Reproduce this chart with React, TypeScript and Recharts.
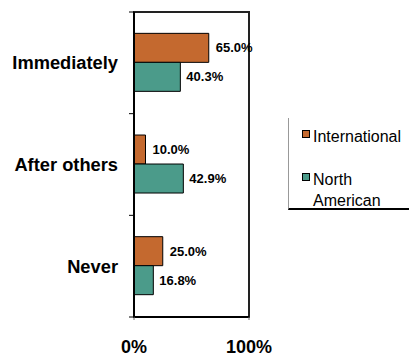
import { BarChart, Bar, XAxis, YAxis, LabelList, ReferenceArea } from "recharts";

const categories = ["Immediately", "After others", "Never"];
const seriesNames = ["International", "North American"];
const international = [65.0, 10.0, 25.0];
const northAmerican = [40.3, 42.9, 16.8];
const xTicks = [0, 100];

const ORANGE = "#C4692F";
const TEAL = "#4B9B8A";
const FONT = "'Liberation Sans', Arial, sans-serif";

const W = 409;
const H = 356;
const PLOT_LEFT = 134;
const PLOT_RIGHT = 249;
const PLOT_TOP = 12;
const PLOT_BOTTOM = 317;
const TOP_AXIS_H = 1;
const BAND = (PLOT_BOTTOM - PLOT_TOP) / categories.length;

const data = categories.map((c, i) => ({
  name: c,
  [seriesNames[0]]: international[i],
  [seriesNames[1]]: northAmerican[i],
}));

// category labels plus the small ticks between the bands
function CategoryTick(props: any) {
  const { y, payload, index } = props;
  const top = y - BAND / 2;
  return (
    <g>
      <line x1={PLOT_LEFT - 5} x2={PLOT_LEFT} y1={top} y2={top} stroke="#000" strokeWidth={1} />
      {index === categories.length - 1 && (
        <line x1={PLOT_LEFT - 5} x2={PLOT_LEFT} y1={y + BAND / 2} y2={y + BAND / 2} stroke="#000" strokeWidth={1} />
      )}
      <text
        x={PLOT_LEFT - 16}
        y={y}
        dy="0.36em"
        textAnchor="end"
        fontFamily={FONT}
        fontWeight="bold"
        fontSize={18.3}
        fill="#000"
      >
        {payload.value}
      </text>
    </g>
  );
}

function LegendBox() {
  const item = (color: string, lines: string[]) => (
    <div style={{ display: "flex", alignItems: "flex-start" }}>
      <span
        style={{
          width: 6,
          height: 6,
          background: color,
          border: "1px solid #000",
          marginTop: 4,
          marginRight: 3,
          flexShrink: 0,
        }}
      />
      <div style={{ lineHeight: "21px" }}>
        {lines.map((l) => (
          <div key={l}>{l}</div>
        ))}
      </div>
    </div>
  );
  return (
    <div
      style={{
        position: "absolute",
        left: 288,
        top: 118,
        width: 121,
        height: 92,
        boxSizing: "border-box",
        borderLeft: "1px solid #999",
        borderBottom: "2px solid #000",
        paddingLeft: 13,
        paddingTop: 8,
        fontFamily: FONT,
        fontSize: 16,
        color: "#000",
      }}
    >
      {item(ORANGE, [seriesNames[0]])}
      <div style={{ height: 22 }} />
      {item(TEAL, seriesNames[1].split(" "))}
    </div>
  );
}

export default function App() {
  return (
    <div style={{ position: "absolute", left: 0, top: 0, width: W, height: H, background: "#fff" }}>
      <BarChart
        width={W}
        height={H}
        data={data}
        layout="vertical"
        margin={{ top: PLOT_TOP - TOP_AXIS_H, right: W - PLOT_RIGHT, bottom: 0, left: 0 }}
        barCategoryGap="21%"
        barGap={0}
      >
        <ReferenceArea x1={0} x2={100} fill="none" stroke="#222" strokeWidth={2} ifOverflow="visible" />
        <XAxis
          type="number"
          domain={[0, 100]}
          ticks={xTicks}
          tickFormatter={(v) => `${v}%`}
          axisLine={{ stroke: "#000", strokeWidth: 2 }}
          tickLine={{ stroke: "#666" }}
          tickSize={3}
          tickMargin={20}
          height={H - PLOT_BOTTOM}
          tick={{ fill: "#000", fontSize: 18, fontWeight: "bold", fontFamily: FONT }}
        />
        <XAxis
          xAxisId="top"
          orientation="top"
          type="number"
          domain={[0, 100]}
          ticks={xTicks}
          tick={false}
          tickLine={false}
          axisLine={{ stroke: "#222", strokeWidth: 2 }}
          height={TOP_AXIS_H}
        />
        <YAxis
          type="category"
          dataKey="name"
          width={PLOT_LEFT}
          axisLine={{ stroke: "#000", strokeWidth: 2 }}
          tickLine={false}
          tick={<CategoryTick />}
        />
        <Bar dataKey={seriesNames[0]} fill={ORANGE} stroke="#000" strokeWidth={1} isAnimationActive={false}>
          <LabelList
            dataKey={seriesNames[0]}
            position="right"
            offset={7}
            formatter={(v: any) => `${Number(v).toFixed(1)}%`}
            style={{ fill: "#000", fontSize: 13, fontWeight: "bold", fontFamily: FONT }}
          />
        </Bar>
        <Bar dataKey={seriesNames[1]} fill={TEAL} stroke="#000" strokeWidth={1} isAnimationActive={false}>
          <LabelList
            dataKey={seriesNames[1]}
            position="right"
            offset={6}
            formatter={(v: any) => `${Number(v).toFixed(1)}%`}
            style={{ fill: "#000", fontSize: 13, fontWeight: "bold", fontFamily: FONT }}
          />
        </Bar>
      </BarChart>
      <LegendBox />
    </div>
  );
}
